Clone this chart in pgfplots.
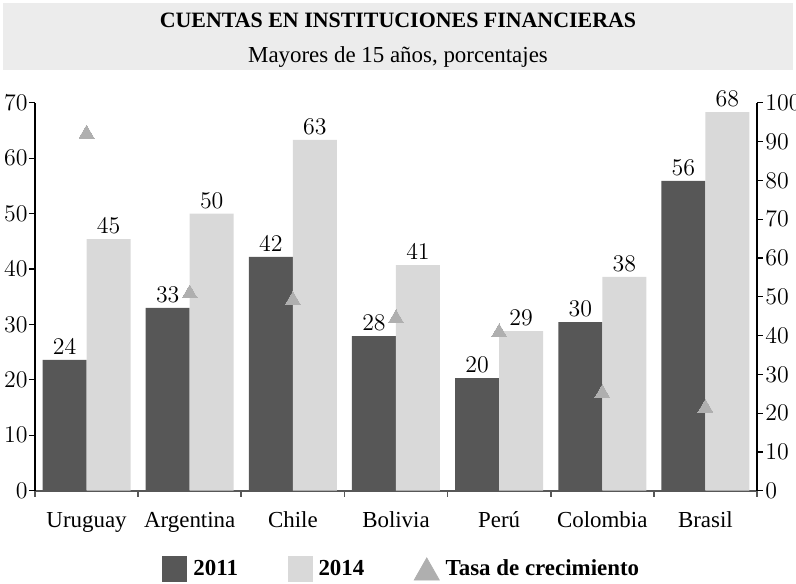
\documentclass[border=0pt]{standalone}
\usepackage{pgfplots}
\pgfplotsset{compat=1.18}
\usepackage{pgfplotstable}
\usepackage{fontspec}
\setmainfont{Liberation Serif}
\definecolor{dark}{HTML}{575757}
\definecolor{light}{HTML}{D9D9D9}
\definecolor{tri}{HTML}{AFAFAF}
\definecolor{boxg}{HTML}{ECECEC}
\pgfplotstableread{
x a la b lb g
0 23.6 24 45.4 45 92.0
1 33.0 33 50.0 50 50.8
2 42.2 42 63.3 63 49.1
3 27.9 28 40.7 41 44.4
4 20.3 20 28.8 29 40.8
5 30.4 30 38.6 38 25.1
6 55.9 56 68.3 68 21.3
}\datatab
\newcommand{\fs}{\fontsize{11.5}{13}\selectfont}
\begin{document}
\begin{tikzpicture}
\useasboundingbox (0,0) rectangle (398bp,-292bp);
\fill[boxg] (1.5bp,-1.5bp) rectangle (396.5bp,-35bp);
\node[font=\fontsize{11}{13}\selectfont\bfseries, inner sep=0pt] at (199bp,-10.25bp) {CUENTAS EN INSTITUCIONES FINANCIERAS};
\node[font=\fs, inner sep=0pt] at (199bp,-28.5bp) {Mayores de 15 años, porcentajes};
\begin{axis}[
  at={(17.5bp,-245.35bp)}, anchor=south west,
  scale only axis, width=361bp, height=194bp,
  xmin=-0.5, xmax=6.5, ymin=0, ymax=70,
  axis y line*=left, axis x line*=bottom,
  ybar=0pt, bar width=22bp,
  xtick={-0.5,0.5,...,6.5},
  xticklabels={Uruguay,Argentina,Chile,Bolivia,Perú,Colombia,Brasil},
  x tick label as interval,
  ytick={0,10,...,70},
  tick align=outside, major tick length=3bp,
  every major x tick/.append style={dark, line width=0.8bp},
  every major y tick/.append style={black, line width=0.6bp},
  x axis line style={dark, line width=1bp},
  y axis line style={black, line width=0.6bp},
  tick label style={font=\fs},
  xticklabel style={anchor=base, yshift=-15.4bp},
  yticklabel style={inner xsep=0.5bp},
  legend columns=3,
  legend style={draw=none, fill=none, inner sep=0pt, at={(0.176,-0.2018)}, anchor=west,
    font=\fs\bfseries, nodes={inner xsep=3bp, inner ysep=0pt},
    /tikz/every even column/.append style={column sep=21.75bp}},
  nodes near coords={$\pgfplotspointmeta$},
  point meta=explicit symbolic,
  every node near coord/.append style={font=\fs, inner sep=2.5bp},
  clip=false,
]
\addplot[fill=dark, draw=none, legend image code/.code={\fill[dark] (0bp,-6.25bp) rectangle (12.5bp,6.25bp);}] table[x=x,y=a,meta=la]{\datatab};
\addplot[fill=light, draw=none, legend image code/.code={\fill[light] (0bp,-6.25bp) rectangle (12.5bp,6.25bp);}] table[x=x,y=b,meta=lb]{\datatab};
\addlegendimage{legend image code/.code={\fill[tri] (0bp,-5.5bp) -- (12.5bp,-5.5bp) -- (6.25bp,5.5bp) -- cycle;}}
\legend{2011,2014,Tasa de crecimiento}
\end{axis}
\begin{axis}[
  at={(17.5bp,-245.35bp)}, anchor=south west,
  scale only axis, width=361bp, height=194bp,
  xmin=-0.5, xmax=6.5, ymin=0, ymax=100,
  axis y line*=right, axis x line=none,
  ytick={0,10,...,100},
  tick align=outside, major tick length=3bp,
  every major y tick/.append style={black, line width=0.6bp},
  y axis line style={black, line width=0.6bp},
  tick label style={font=\fs},
  yticklabel style={inner xsep=1bp},
  clip=false,
]
\addplot[tri, only marks, mark=triangle*, mark size=4.3bp, mark options={fill=tri, draw=tri, line width=0pt}] table[x=x,y=g]{\datatab};
\end{axis}
\end{tikzpicture}
\end{document}
